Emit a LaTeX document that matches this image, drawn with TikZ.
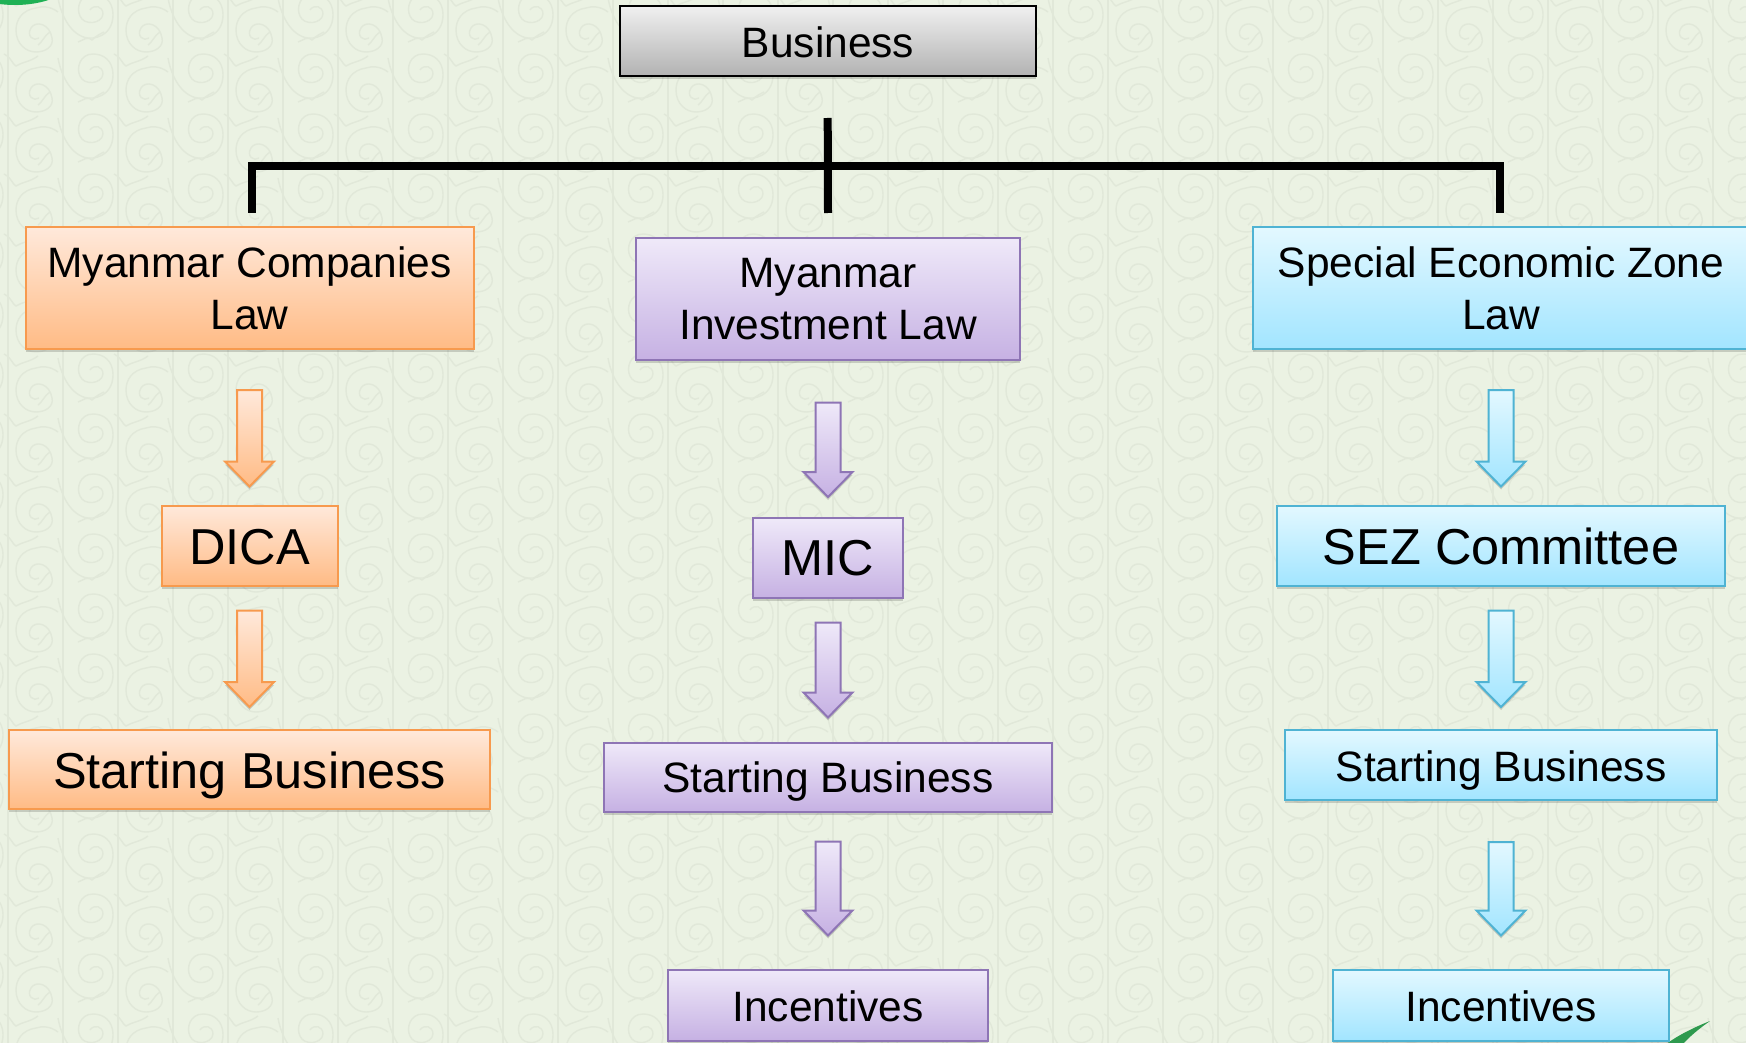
\documentclass[tikz,border=0pt]{standalone}
\usepackage{fontspec}
\setmainfont{Liberation Sans}
\usetikzlibrary{calc,shadows}
\definecolor{pagebg}{HTML}{EBF2E3}
\definecolor{scrollc}{HTML}{E1E8D9}
\definecolor{orline}{HTML}{F79A4E}
\definecolor{ortop}{HTML}{FFE9DB}
\definecolor{orbot}{HTML}{FFBB85}
\definecolor{puline}{HTML}{8E75B5}
\definecolor{putop}{HTML}{EFE9F9}
\definecolor{pubot}{HTML}{C6B1E3}
\definecolor{blline}{HTML}{4FB3D3}
\definecolor{bltop}{HTML}{E3F8FF}
\definecolor{blbot}{HTML}{A2E5FF}
\definecolor{grtop}{HTML}{F0F0F0}
\definecolor{grbot}{HTML}{B2B2B2}
\definecolor{leafc}{HTML}{2E9A4E}
\definecolor{blobc}{HTML}{1FB155}
\tikzset{
  softshadow/.style={general shadow={fill=black,opacity=.16,shadow xshift=0pt,shadow yshift=-3pt}},
  boxbase/.style={rectangle,inner sep=0pt,align=center,line width=2pt,softshadow,text=black},
  txtn/.style={font=\fontsize{42.5}{52}\selectfont},
  txtl/.style={font=\fontsize{50.5}{58}\selectfont},
  sink/.style={execute at begin node={\rule{0pt}{#1pt}}},
  orbox/.style={boxbase,draw=orline,top color=ortop,bottom color=orbot},
  pubox/.style={boxbase,draw=puline,top color=putop,bottom color=pubot},
  blbox/.style={boxbase,draw=blline,top color=bltop,bottom color=blbot},
  grbox/.style={boxbase,draw=black,top color=grtop,bottom color=grbot},
  orarrow/.style={draw=orline,line width=2pt,top color=ortop,bottom color=orbot,softshadow},
  puarrow/.style={draw=puline,line width=2pt,top color=putop,bottom color=pubot,softshadow},
  blarrow/.style={draw=blline,line width=2pt,top color=bltop,bottom color=blbot,softshadow},
  bracket/.style={draw=black,line width=8pt},
  scrollline/.style={draw=scrollc,line width=1.4pt}
}
% #1 style, #2 source node, #3 gap below source, #4 target node, #5 gap above target
\newcommand{\blockarrow}[5]{%
  \coordinate (arrs) at ($(#2.south)+(0,#3)$);
  \coordinate (arre) at ($(#4.north)-(0,#5)$);
  \path[#1] ($(arrs)+(-12.5,0)$) -- ($(arrs)+(12.5,0)$) -- ($(arre)+(12.5,-25)$) -- ($(arre)+(24.5,-25)$)
    -- (arre) -- ($(arre)+(-24.5,-25)$) -- ($(arre)+(-12.5,-25)$) -- cycle;
}
\newcommand{\scrolltile}[2]{%
  \begin{scope}[shift={(#1,#2)}]
    \draw[scrollline] (0,0) -- (0,60) (55,0) -- (55,60);
    \draw[scrollline] (50,-2) .. controls (55,25) and (70,40) .. (85,38)
      .. controls (100,36) and (105,25) .. (105,15) .. controls (105,0) and (95,-6) .. (85,-6)
      .. controls (72,-6) and (68,8) .. (72,16) .. controls (76,26) and (94,24) .. (95,14)
      .. controls (95,6) and (86,4) .. (82,10);
    \draw[scrollline] (50,12) .. controls (42,6) and (34,6) .. (28,8)
      .. controls (14,10) and (8,20) .. (8,30) .. controls (8,44) and (18,52) .. (28,52)
      .. controls (38,52) and (46,46) .. (44,38) .. controls (42,24) and (28,20) .. (23,28)
      .. controls (18,36) and (26,42) .. (31,38);
    \draw[scrollline] (30,45) .. controls (36,40) and (36,36) .. (42,32);
    \draw[scrollline] (70,42) .. controls (76,40) and (78,36) .. (84,40) .. controls (88,36) and (92,34) .. (96,32);
    \draw[scrollline] (-4,-6) .. controls (4,-2) and (4,4) .. (8,6) .. controls (14,2) and (22,2) .. (30,-4);
  \end{scope}%
}
\begin{document}
\begin{tikzpicture}[x=1pt,y=-1pt]
\useasboundingbox (0,0) rectangle (1746,1043);
\clip (0,0) rectangle (1746,1043);
\fill[pagebg] (0,0) rectangle (1746,1043);
\foreach \cx in {-1,0,...,15}{
  \foreach \cy in {-1,0,...,17}{
    \pgfmathsetmacro{\tx}{\cx*110+8}
    \pgfmathsetmacro{\ty}{\cy*60}
    \scrolltile{\tx}{\ty}
  }
}
\fill[blobc] (15,-30) ellipse [x radius=65,y radius=35];
\fill[leafc] (1710,1021) .. controls (1695,1027) and (1678,1035) .. (1665,1045) -- (1682,1045) .. controls (1690,1036) and (1700,1028) .. (1710,1021) -- cycle;

% top box
\node[grbox,txtn,sink=33,minimum width=416pt,minimum height=70pt] (biz) at (828,41) {Business};

% column 1
\node[orbox,txtn,minimum width=448pt,minimum height=122pt] (mcl) at (249.5,288) {Myanmar Companies\\Law};
\node[orbox,txtl,sink=39,minimum width=176pt,minimum height=80pt] (dica) at (249.5,545.5) {DICA};
\node[orbox,txtl,sink=48,minimum width=481pt,minimum height=79pt] (sb1) at (249.5,769.5) {Starting Business};

% column 2
\node[pubox,txtn,sink=41,minimum width=384pt,minimum height=122pt] (mil) at (828,299) {Myanmar\\Investment Law};
\node[pubox,txtl,minimum width=150pt,minimum height=80pt] (mic) at (828,558) {MIC};
\node[pubox,txtn,sink=39.5,minimum width=448pt,minimum height=69pt] (sb2) at (828,777) {Starting Business};
\node[pubox,txtn,sink=33,minimum width=320pt,minimum height=71pt] (inc2) at (828,1005) {Incentives};

% column 3
\node[blbox,txtn,minimum width=496pt,minimum height=122pt] (sezl) at (1501,288) {Special Economic Zone\\Law};
\node[blbox,txtl,sink=39,minimum width=448pt,minimum height=80pt] (sezc) at (1501,545.5) {SEZ Committee};
\node[blbox,txtn,sink=42,minimum width=432pt,minimum height=70pt] (sb3) at (1501,765) {Starting Business};
\node[blbox,txtn,sink=33,minimum width=336pt,minimum height=71pt] (inc3) at (1501,1005) {Incentives};

% bracket
\coordinate (hubtop) at (827.7,118);
\coordinate (hubbot) at ($(mil.north)+(0,-24)$);
\coordinate (brl) at ($(mcl.north)+(2.5,-60)$);
\coordinate (brlb) at ($(mcl.north)+(2.5,-13)$);
\coordinate (brr) at ($(sezl.north)+(-1,-60)$);
\coordinate (brrb) at ($(sezl.north)+(-1,-13)$);
\draw[bracket] (brlb) -- (brl) -- (brr) -- (brrb);
\draw[bracket] (hubtop) -- (hubbot);

% arrows
\blockarrow{orarrow}{mcl}{40}{dica}{18}
\blockarrow{orarrow}{dica}{24}{sb1}{22}
\blockarrow{puarrow}{mil}{41.5}{mic}{20}
\blockarrow{puarrow}{mic}{23.5}{sb2}{24}
\blockarrow{puarrow}{sb2}{29}{inc2}{33}
\blockarrow{blarrow}{sezl}{40}{sezc}{18}
\blockarrow{blarrow}{sezc}{24}{sb3}{22}
\blockarrow{blarrow}{sb3}{41}{inc3}{33}
\end{tikzpicture}
\end{document}
